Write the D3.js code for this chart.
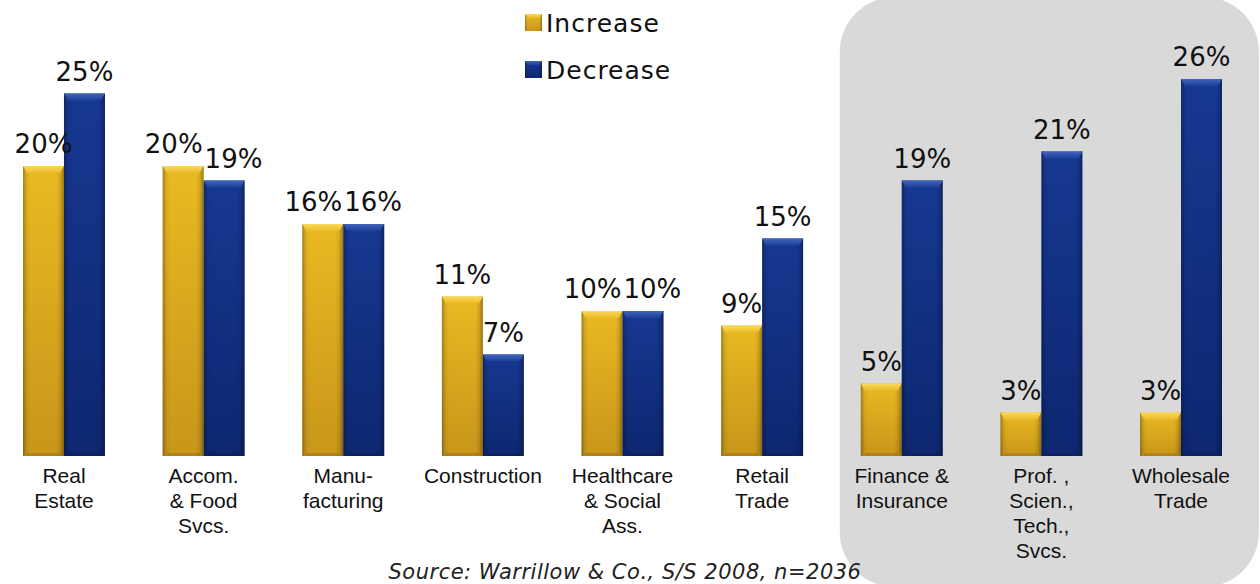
<!DOCTYPE html>
<html>
<head>
<meta charset="utf-8">
<script src="https://cdn.jsdelivr.net/npm/d3@7/dist/d3.min.js"></script>
<style>
  html, body { margin: 0; padding: 0; background: #ffffff; }
  svg { display: block; }
</style>
</head>
<body>
<svg id="chart" width="1260" height="584"></svg>
<script>
// Share of businesses reporting an increase / decrease, by industry
const categories = [
  "Real Estate", "Accom. & Food Svcs.", "Manufacturing", "Construction",
  "Healthcare & Social Ass.", "Retail Trade", "Finance & Insurance",
  "Prof., Scien., Tech., Svcs.", "Wholesale Trade"
];
const categoryLines = [
  ["Real", "Estate"],
  ["Accom.", "& Food", "Svcs."],
  ["Manu-", "facturing"],
  ["Construction"],
  ["Healthcare", "& Social", "Ass."],
  ["Retail", "Trade"],
  ["Finance &", "Insurance"],
  ["Prof. ,", "Scien.,", "Tech.,", "Svcs."],
  ["Wholesale", "Trade"]
];
const increase = [20, 20, 16, 11, 10, 9, 5, 3, 3];
const decrease = [25, 19, 16, 7, 10, 15, 19, 21, 26];
const seriesNames = ["Increase", "Decrease"];
const highlighted = ["Finance & Insurance", "Prof., Scien., Tech., Svcs.", "Wholesale Trade"];
const sourceNote = "Source: Warrillow & Co., S/S 2008, n=2036";

const svg = d3.select("#chart");
const W = 1260, H = 584;
const baseY = 456;

const x = d3.scaleBand().domain(categories).range([23, 1222])
  .paddingInner(0.413).paddingOuter(0);
const xs = d3.scaleBand().domain(seriesNames).range([0, x.bandwidth()]).padding(0);
const y = d3.scaleLinear().domain([0, 26]).range([baseY, 79]);

const palette = {
  Increase: { top: "#EAB922", bottom: "#C8961A", bevelTop: "#FBDA5A", bevelBottom: "#E9BA28" },
  Decrease: { top: "#173892", bottom: "#0D2770", bevelTop: "#4164BA", bevelBottom: "#1E3F98" }
};

const defs = svg.append("defs");
seriesNames.forEach(s => {
  const c = palette[s];
  const g = defs.append("linearGradient").attr("id", "body-" + s)
    .attr("x1", 0).attr("y1", 0).attr("x2", 0).attr("y2", 1);
  g.append("stop").attr("offset", "0%").attr("stop-color", c.top);
  g.append("stop").attr("offset", "100%").attr("stop-color", c.bottom);
  const b = defs.append("linearGradient").attr("id", "bevel-" + s)
    .attr("x1", 0).attr("y1", 0).attr("x2", 0).attr("y2", 1);
  b.append("stop").attr("offset", "0%").attr("stop-color", c.bevelTop);
  b.append("stop").attr("offset", "100%").attr("stop-color", c.bevelBottom);
});
const side = defs.append("linearGradient").attr("id", "side-shade")
  .attr("x1", 0).attr("y1", 0).attr("x2", 1).attr("y2", 0);
[["0%", 0.3], ["9%", 0.06], ["18%", 0], ["82%", 0], ["91%", 0.1], ["100%", 0.35]]
  .forEach(([o, a]) => side.append("stop").attr("offset", o)
    .attr("stop-color", "#000").attr("stop-opacity", a));

// Grey panel behind the highlighted industries
const hiX0 = x(highlighted[0]) - 21;
svg.append("rect")
  .attr("x", hiX0).attr("y", -3)
  .attr("width", W - hiX0 - 1).attr("height", H + 6)
  .attr("rx", 55).attr("ry", 55)
  .attr("fill", "#D9D9D9");

// Beveled bar
function drawBar(g, series, x0, w, v) {
  const top = y(v), h = baseY - top;
  g.append("rect").attr("x", x0).attr("y", top).attr("width", w).attr("height", h)
    .attr("fill", `url(#body-${series})`);
  g.append("rect").attr("x", x0).attr("y", top).attr("width", w).attr("height", h)
    .attr("fill", "url(#side-shade)");
  const bv = Math.min(7, h / 2), inset = 4;
  g.append("polygon")
    .attr("points", [[x0, top], [x0 + w, top], [x0 + w - inset, top + bv], [x0 + inset, top + bv]]
      .map(p => p.join(",")).join(" "))
    .attr("fill", `url(#bevel-${series})`);
  g.append("rect").attr("x", x0 + inset).attr("y", baseY - 3).attr("width", w - 2 * inset).attr("height", 3)
    .attr("fill", "#000").attr("fill-opacity", 0.12);
}

const rows = categories.map((c, i) => ({ c, i, vals: [increase[i], decrease[i]] }));
const groups = svg.append("g").selectAll("g.group").data(rows).join("g")
  .attr("class", "group")
  .attr("transform", d => `translate(${x(d.c)},0)`);

groups.each(function (d) {
  const g = d3.select(this);
  seriesNames.forEach((s, k) => drawBar(g, s, xs(s), xs.bandwidth(), d.vals[k]));

  // value labels above each bar; pushed apart sideways when they would collide
  const labels = seriesNames.map((s, k) => g.append("text")
    .attr("x", xs(s) + xs.bandwidth() / 2)
    .attr("y", y(d.vals[k]) - 13)
    .attr("text-anchor", "middle")
    .attr("font-family", "DejaVu Sans, Verdana, sans-serif")
    .attr("font-size", 26)
    .attr("fill", "#111")
    .text(d.vals[k] + "%"));
  const [a, b] = labels;
  const ya = +a.attr("y"), yb = +b.attr("y");
  if (Math.abs(ya - yb) < 22) {
    const wa = a.node().getComputedTextLength(), wb = b.node().getComputedTextLength();
    const ca = +a.attr("x"), cb = +b.attr("x");
    const overlap = (ca + wa / 2) - (cb - wb / 2) + 2;
    if (overlap > 0) {
      a.attr("x", ca - overlap / 2);
      b.attr("x", cb + overlap / 2);
    }
  }

  const t = g.append("text")
    .attr("x", x.bandwidth() / 2)
    .attr("y", 483)
    .attr("text-anchor", "middle")
    .attr("font-family", "Liberation Sans, Arial, sans-serif")
    .attr("font-size", 21)
    .attr("fill", "#111");
  categoryLines[d.i].forEach((line, j) => {
    t.append("tspan").attr("x", x.bandwidth() / 2).attr("y", 483 + j * 25).text(line);
  });
});

// Legend
const legend = svg.append("g").attr("transform", "translate(525,0)");
seriesNames.forEach((s, k) => {
  const ly = 14 + k * 47;
  legend.append("rect").attr("x", 0).attr("y", ly).attr("width", 17).attr("height", 17)
    .attr("fill", `url(#body-${s})`);
  legend.append("rect").attr("x", 0).attr("y", ly).attr("width", 17).attr("height", 17)
    .attr("fill", "url(#side-shade)");
  legend.append("polygon")
    .attr("points", `0,${ly} 17,${ly} 14,${ly + 4} 3,${ly + 4}`)
    .attr("fill", `url(#bevel-${s})`);
  legend.append("text")
    .attr("x", 21).attr("y", ly + 18)
    .attr("font-family", "DejaVu Sans, Verdana, sans-serif")
    .attr("font-size", 25)
    .attr("letter-spacing", 1)
    .attr("fill", "#111")
    .text(s);
});

// Source note
svg.append("text")
  .attr("x", 625).attr("y", 579)
  .attr("text-anchor", "middle")
  .attr("font-family", "DejaVu Sans, Verdana, sans-serif")
  .attr("font-style", "italic")
  .attr("font-size", 21)
  .attr("letter-spacing", 0.5)
  .attr("fill", "#222")
  .text(sourceNote);
</script>
</body>
</html>
